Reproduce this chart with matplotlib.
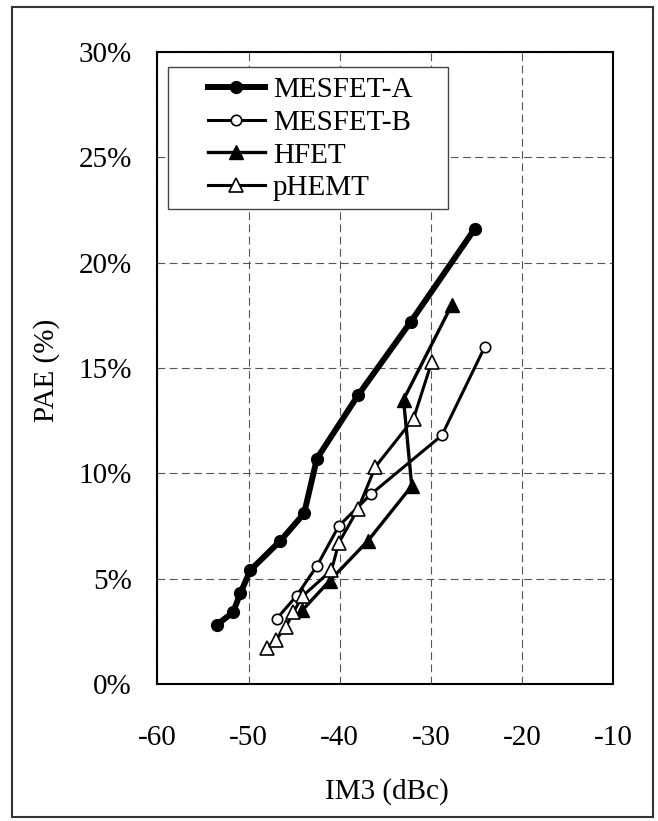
import matplotlib
matplotlib.use('Agg')
import matplotlib.pyplot as plt
from matplotlib.patches import Rectangle
from matplotlib.ticker import FuncFormatter

plt.rcParams['font.family'] = ['Liberation Serif', 'DejaVu Serif']
plt.rcParams['axes.unicode_minus'] = False

# ---- data (IM3 in dBc, PAE in %) ----
mesfet_a_x = [-53.5, -51.7, -50.9, -49.8, -46.5, -43.9, -42.5, -38.0, -32.2, -25.2]
mesfet_a_y = [2.8, 3.4, 4.3, 5.4, 6.8, 8.1, 10.7, 13.7, 17.2, 21.6]

mesfet_b_x = [-46.9, -44.7, -42.5, -40.1, -36.6, -28.8, -24.1]
mesfet_b_y = [3.1, 4.2, 5.6, 7.5, 9.0, 11.8, 16.0]

hfet_x = [-44.1, -41.1, -36.9, -32.1, -33.0, -27.7]
hfet_y = [3.5, 4.9, 6.8, 9.4, 13.5, 18.0]

phemt_x = [-48.0, -47.0, -45.9, -45.1, -44.0, -40.9, -40.1, -38.0, -36.1, -31.9, -29.9]
phemt_y = [1.7, 2.1, 2.7, 3.4, 4.2, 5.4, 6.7, 8.3, 10.3, 12.6, 15.3]

series_labels = ['MESFET-A', 'MESFET-B', 'HFET', 'pHEMT']
x_ticks = [-60, -50, -40, -30, -20, -10]
y_ticks = [0, 5, 10, 15, 20, 25, 30]

W, H = 658, 821
fig = plt.figure(figsize=(W / 100, H / 100), dpi=100)

ax_l, ax_r, ax_t, ax_b = 157.3, 613.3, 52.0, 684.0
ax = fig.add_axes([ax_l / W, 1 - ax_b / H, (ax_r - ax_l) / W, (ax_b - ax_t) / H])

FS = 21

ax.plot(mesfet_a_x, mesfet_a_y, color='black', lw=4.3, marker='o', ms=8.5,
        mfc='black', mec='black', label=series_labels[0], zorder=4)
ax.plot(mesfet_b_x, mesfet_b_y, color='black', lw=2.2, marker='o', ms=7.5,
        mfc='white', mec='black', mew=1.2, label=series_labels[1], zorder=4)
ax.plot(hfet_x, hfet_y, color='black', lw=2.4, marker='^', ms=9.5,
        mfc='black', mec='black', label=series_labels[2], zorder=4)
ax.plot(phemt_x, phemt_y, color='black', lw=2.2, marker='^', ms=9.5,
        mfc='white', mec='black', mew=1.2, label=series_labels[3], zorder=4)

ax.set_xlim(-60, -10)
ax.set_ylim(0, 30)
ax.set_xticks(x_ticks)
ax.set_yticks(y_ticks)
ax.yaxis.set_major_formatter(FuncFormatter(lambda v, p: f'{v:.0f}%'))
ax.xaxis.set_major_formatter(FuncFormatter(lambda v, p: f'{v:.0f}'))
ax.tick_params(axis='both', length=0, labelsize=FS)
ax.tick_params(axis='x', pad=29.5)
ax.tick_params(axis='y', pad=18.4)

ax.set_axisbelow(True)
ax.grid(True, linestyle=(0, (7, 4)), color='#555555', lw=0.8)
for s in ax.spines.values():
    s.set_linewidth(1.5)
    s.set_color('black')

# legend box
bx0 = (167.7 - ax_l) / (ax_r - ax_l)
bx1 = (447.7 - ax_l) / (ax_r - ax_l)
by0 = (ax_b - 209.0) / (ax_b - ax_t)
by1 = (ax_b - 66.7) / (ax_b - ax_t)
ax.add_patch(Rectangle((bx0, by0), bx1 - bx0, by1 - by0, transform=ax.transAxes,
                       facecolor='white', edgecolor='#444444', lw=1.0, zorder=5,
                       clip_on=False))
lx = (208 - ax_l) / (ax_r - ax_l)
ly = (ax_b - 76.5) / (ax_b - ax_t)
leg = ax.legend(loc='upper left', bbox_to_anchor=(lx, ly), bbox_transform=ax.transAxes,
                frameon=False, fontsize=FS, borderpad=0, borderaxespad=0,
                handlelength=1.95, handletextpad=0.27, labelspacing=0.22)
leg.set_zorder(6)

fig.text(47 / W, 1 - 370 / H, 'PAE (%)', rotation=90, ha='center', va='center', fontsize=FS)
fig.text(386.7 / W, 1 - 791.7 / H, 'IM3 (dBc)', ha='center', va='center', fontsize=FS)

# outer border
fig.patches.append(Rectangle((11.5 / W, 1 - 817 / H), (653.3 - 11.5) / W, (817 - 6.7) / H,
                             transform=fig.transFigure, fill=False,
                             edgecolor='#333333', lw=1.5))

fig.savefig('out.png', dpi=100)
